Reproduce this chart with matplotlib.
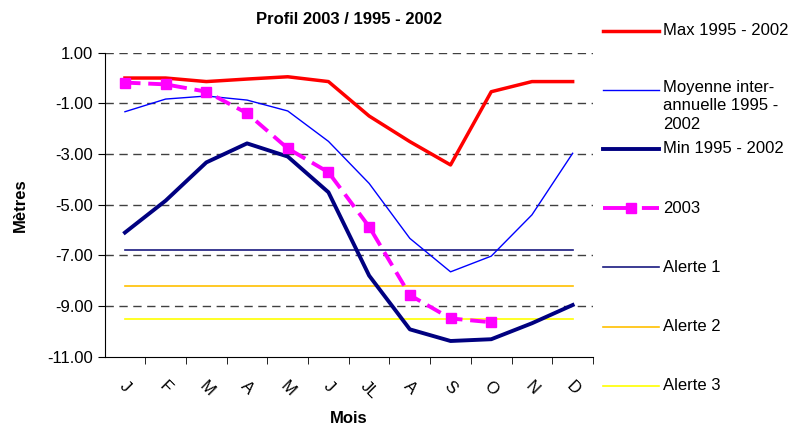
import matplotlib.pyplot as plt
from matplotlib.lines import Line2D
from matplotlib.ticker import FixedLocator

plt.rcParams['font.family'] = ['Liberation Sans', 'DejaVu Sans']

# data
mois = ['J', 'F', 'M', 'A', 'M', 'J', 'JL', 'A', 'S', 'O', 'N', 'D']
max_95_02 = [0.0, 0.0, -0.14, -0.04, 0.05, -0.14, -1.5, -2.51, -3.43, -0.54, -0.14, -0.14]
moy_95_02 = [-1.33, -0.83, -0.71, -0.87, -1.3, -2.5, -4.16, -6.33, -7.65, -7.03, -5.4, -2.97]
min_95_02 = [-6.1, -4.84, -3.33, -2.58, -3.1, -4.51, -7.8, -9.92, -10.38, -10.31, -9.68, -8.96]
an_2003 = [-0.18, -0.25, -0.54, -1.39, -2.78, -3.72, -5.87, -8.57, -9.49, -9.64]
alerte1 = -6.79
alerte2 = -8.21
alerte3 = -9.5

W, H = 791, 429
fig = plt.figure(figsize=(W / 100, H / 100), dpi=100)
ax = fig.add_axes([104.6 / W, 1 - 356.7 / H, (593 - 104.6) / W, (356.7 - 52.7) / H])

x = list(range(len(mois)))
x03 = list(range(len(an_2003)))

# grid
for v in range(1, -11, -2):
    ax.axhline(v, color='#404040', lw=1, ls=(0, (6, 4)), zorder=0)

ax.plot(x, [alerte1] * 12, color='#1a1a80', lw=1.2, zorder=2)
ax.plot(x, [alerte2] * 12, color='#FFC000', lw=1.2, zorder=2)
ax.plot(x, [alerte3] * 12, color='#FFFF00', lw=1.2, zorder=2)
ax.plot(x, max_95_02, color='#FF0000', lw=2.5, zorder=3)
ax.plot(x, moy_95_02, color='#0000FF', lw=1, zorder=3)
ax.plot(x, min_95_02, color='#000080', lw=2.8, zorder=3)
ax.plot(x03, an_2003, color='#FF00FF', lw=2.8, ls=(0, (4, 2)),
        marker='s', ms=7, mec='#FF00FF', mfc='#FF00FF', zorder=4)

ax.set_xlim(-0.5, 11.5)
ax.set_ylim(-11, 1)
ax.set_yticks(range(1, -12, -2))
ax.set_yticklabels(['%.2f' % v for v in range(1, -12, -2)], fontsize=12)
ax.set_xticks(x)
ax.set_xticklabels(mois, rotation=-45, fontsize=12, ha='center', va='top')
ax.xaxis.set_minor_locator(FixedLocator([i + 0.5 for i in range(12)]))
ax.tick_params(axis='x', which='major', length=0, pad=16)
ax.tick_params(axis='x', which='minor', length=5, direction='out')
ax.tick_params(axis='y', length=5, direction='out')

for s in ['top', 'right']:
    ax.spines[s].set_visible(False)

ax.set_title('Profil 2003 / 1995 - 2002', fontsize=12, fontweight='bold', pad=21)
ax.set_ylabel('Mètres', fontsize=12, fontweight='bold')
ax.yaxis.set_label_coords(-0.157, 0.5)
ax.set_xlabel('Mois', fontsize=12, fontweight='bold')
ax.xaxis.set_label_coords(0.5, -0.18)

# legend drawn by hand to keep Excel spacing
leg = [
    ('Max 1995 - 2002', dict(color='#FF0000', lw=2.5)),
    ('Moyenne inter-\nannuelle 1995 -\n2002', dict(color='#0000FF', lw=1)),
    ('Min 1995 - 2002', dict(color='#000080', lw=2.8)),
    ('2003', dict(color='#FF00FF', lw=2.8, ls=(0, (7, 3)), marker='s', ms=7, markevery=[1])),
    ('Alerte 1', dict(color='#1a1a80', lw=1.2)),
    ('Alerte 2', dict(color='#FFC000', lw=1.2)),
    ('Alerte 3', dict(color='#FFFF00', lw=1.2)),
]
for i, (lab, kw) in enumerate(leg):
    yp = 1 - (30.5 + 59.2 * i) / H
    fig.add_artist(Line2D([603 / W, 631 / W, 659 / W], [yp, yp, yp], **kw))
    if '\n' in lab:
        fig.text(663 / W, yp + 10 / H, lab, fontsize=12, va='top', linespacing=1.3)
    else:
        fig.text(663 / W, yp, lab, fontsize=12, va='center')

fig.savefig('out.png', dpi=100)
